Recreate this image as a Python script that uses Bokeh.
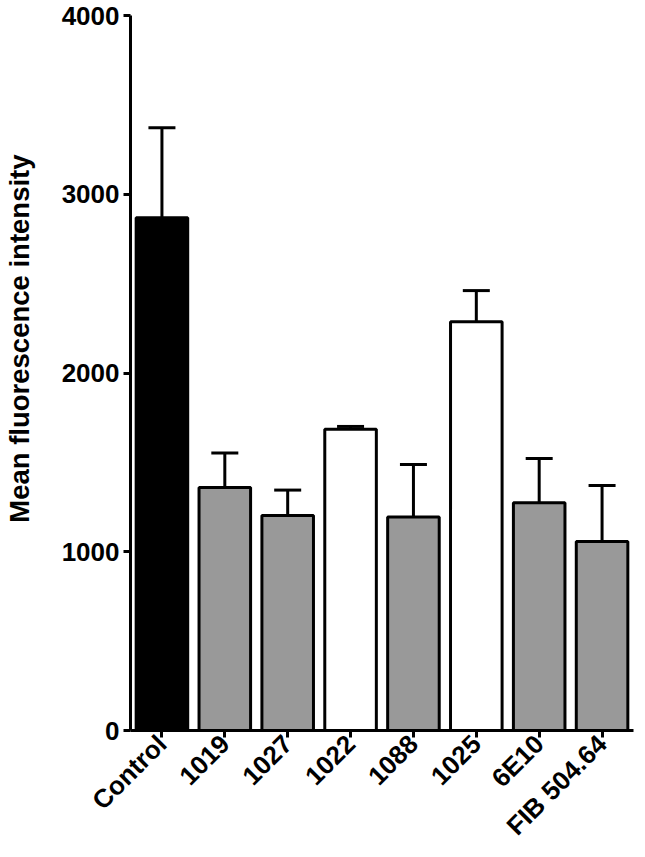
from bokeh.plotting import figure
from bokeh.models import Range1d, FixedTicker, Whisker, TeeHead, ColumnDataSource
from bokeh.embed import file_html
from bokeh.resources import INLINE
import math

categories = ["Control", "1019", "1027", "1022", "1088", "1025", "6E10", "FIB 504.64"]
means = [2868, 1360, 1203, 1685, 1195, 2287, 1274, 1057]
upper_err = [3372, 1553, 1345, 1701, 1488, 2461, 1522, 1371]
colors = ["#000000", "#999999", "#999999", "#ffffff", "#999999", "#ffffff", "#999999", "#999999"]
y_ticks = [0, 1000, 2000, 3000, 4000]
y_title = "Mean fluorescence intensity"

src = ColumnDataSource(dict(cat=categories, mean=means, up=upper_err, color=colors))

p = figure(x_range=categories, y_range=Range1d(0, 4000), width=637, height=854,
           output_backend="svg", toolbar_location=None,
           min_border_left=126, min_border_right=4, min_border_top=15, min_border_bottom=110)
p.x_range.range_padding = 0
p.outline_line_color = None
p.grid.visible = False
p.background_fill_color = "white"

p.vbar(x="cat", top="mean", width=0.82, bottom=0, source=src,
       fill_color="color", line_color="black", line_width=3)

w = Whisker(base="cat", lower="mean", upper="up", source=src,
            upper_head=TeeHead(size=27, line_width=3, line_color="black"),
            lower_head=None, line_width=3, line_color="black")
p.add_layout(w)

font = "Liberation Sans"
for ax in (p.xaxis[0], p.yaxis[0]):
    ax.axis_line_width = 3
    ax.major_tick_line_width = 3
    ax.major_tick_out = 7
    ax.major_tick_in = 0
    ax.minor_tick_line_color = None
    ax.major_label_text_font = font
    ax.major_label_text_font_style = "bold"
    ax.major_label_text_font_size = "26px"
    ax.major_label_text_color = "black"
    ax.axis_line_color = "black"
    ax.major_tick_line_color = "black"

p.yaxis.ticker = FixedTicker(ticks=y_ticks)
p.yaxis.major_label_standoff = 4
# leading non-breaking spaces shift the centred title upward, as in the reference
p.yaxis.axis_label = "\u00a0" * 9 + y_title
p.yaxis.axis_label_text_font = font
p.yaxis.axis_label_text_font_style = "bold"
p.yaxis.axis_label_text_font_size = "27.5px"
p.yaxis.axis_label_text_color = "black"
p.yaxis.axis_label_standoff = 24

p.xaxis.major_label_orientation = math.pi / 4
p.xaxis.major_label_standoff = 2

open("out.html", "w").write(file_html(p, INLINE))
